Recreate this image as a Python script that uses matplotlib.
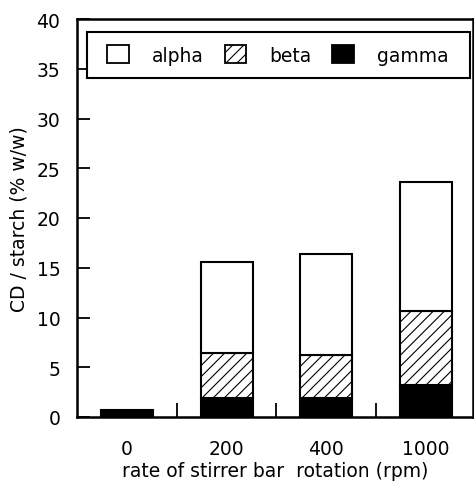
import matplotlib
matplotlib.use('Agg')
import matplotlib.pyplot as plt
from matplotlib.patches import Patch, Rectangle
import numpy as np

plt.rcParams['font.family'] = ['DejaVu Sans']
plt.rcParams['hatch.linewidth'] = 0.8

categories = ['0', '200', '400', '1000']
gamma = [0.7, 1.9, 1.9, 3.2]
beta = [0.0, 4.5, 4.3, 7.5]
alpha = [0.0, 9.2, 10.15, 12.9]

fs = 13.5
x = np.arange(len(categories))
fig = plt.figure(figsize=(4.74, 4.85), dpi=100)
ax = fig.add_axes([77/474, 67/485, 396/474, 398/485])

w = 0.52
ax.bar(x, gamma, w, color='black', edgecolor='black', linewidth=1.5)
nz = [i for i in range(len(x)) if beta[i] > 0]
ax.bar(x[nz], [beta[i] for i in nz], w, bottom=[gamma[i] for i in nz],
       color='white', edgecolor='black', hatch='///', linewidth=1.5)
ax.bar(x[nz], [alpha[i] for i in nz], w,
       bottom=[gamma[i] + beta[i] for i in nz],
       color='white', edgecolor='black', linewidth=1.5)

ax.set_xlim(-0.5, 3.47)
ax.set_ylim(0, 40)
ax.set_yticks(range(0, 41, 5))
ax.set_xticks(x)
ax.set_xticklabels(categories)
ax.set_xticks([0.5, 1.5, 2.5], minor=True)
ax.tick_params(axis='x', which='major', length=0, pad=16, labelsize=fs)
ax.tick_params(axis='x', which='minor', direction='in', length=10, width=1.3)
ax.tick_params(axis='y', direction='in', length=9, width=1.3, pad=12, labelsize=fs)
for s in ax.spines.values():
    s.set_linewidth(1.8)

ax.set_xlabel('rate of stirrer bar  rotation (rpm)', fontsize=fs, labelpad=2)
ax.set_ylabel('CD / starch (% w/w)', fontsize=fs, labelpad=6)

# legend frame drawn separately so the inner padding can match
ax.add_patch(Rectangle((0.0253, 0.852), 0.967, 0.115, transform=ax.transAxes,
                       facecolor='white', edgecolor='black', linewidth=1.5,
                       zorder=4))
handles = [Patch(facecolor='white', edgecolor='black', linewidth=1.3),
           Patch(facecolor='white', edgecolor='black', hatch='///', linewidth=1.3),
           Patch(facecolor='black', edgecolor='black', linewidth=1.3)]
leg = ax.legend(handles, ['alpha', 'beta', 'gamma'], ncol=3, loc='center left',
                bbox_to_anchor=(0.0758, 0.9095), fontsize=fs, frameon=False,
                handlelength=1.17, handleheight=1.05, handletextpad=1.23,
                columnspacing=1.1, borderpad=0, borderaxespad=0)
leg.set_zorder(5)

fig.savefig('out.png', dpi=100)
